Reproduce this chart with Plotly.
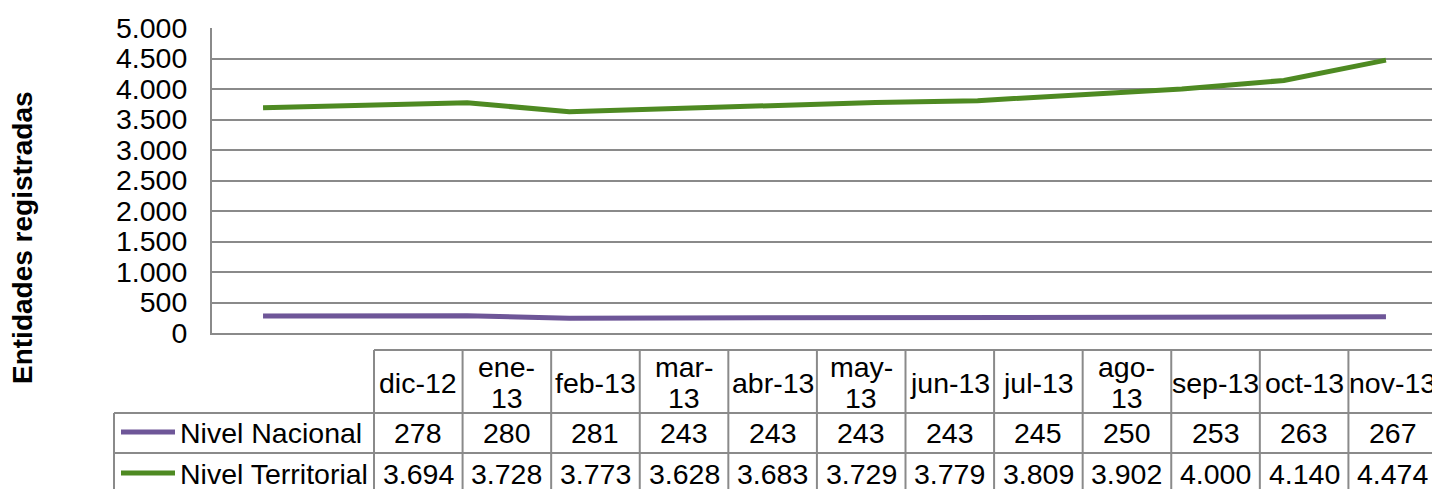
import plotly.graph_objects as go

# ---------------- data ----------------
months = ["dic-12", "ene-13", "feb-13", "mar-13", "abr-13", "may-13",
          "jun-13", "jul-13", "ago-13", "sep-13", "oct-13", "nov-13"]
nivel_nacional = [278, 280, 281, 243, 243, 243, 243, 245, 250, 253, 263, 267]
nivel_territorial = [3694, 3728, 3773, 3628, 3683, 3729, 3779, 3809, 3902, 4000, 4140, 4474]
series_names = ["Nivel Nacional", "Nivel Territorial"]
y_ticks = [0, 500, 1000, 1500, 2000, 2500, 3000, 3500, 4000, 4500, 5000]
y_title = "Entidades registradas"
wrapped_headers = {"ene-13", "mar-13", "may-13", "ago-13"}

# ---------------- style ----------------
OFF = 8                      # page body margin of the browser
W, H = 1440 - OFF, 489 - OFF
PL, PR, PT, PB = 212, 1437, 28, 333          # plot area in page pixels
FONT = "Liberation Sans, Arial, sans-serif"
FS = 28.5
GRID = "#8a8a8a"
colors = ["#6E5698", "#4E8A22"]


def px_x(x):
    return (x - PL) / (PR - PL)


def px_y(y):
    return (PB - y) / (PB - PT)


fig = go.Figure()
for name, vals, col in zip(series_names, [nivel_nacional, nivel_territorial], colors):
    fig.add_trace(go.Scatter(x=months, y=vals, mode="lines", name=name,
                             line=dict(color=col, width=5), showlegend=False))

shapes = []
annotations = []

# table geometry (page pixels)
T_LEFT, T_COL0, T_RIGHT = 114, 374, 1437
ROW_TOP, ROW1, ROW2, ROW_BOT = 350, 413, 453, 494
ncol = len(months)
cw = (T_RIGHT - T_COL0) / ncol


def hline(x0, x1, y):
    shapes.append(dict(type="line", xref="paper", yref="paper",
                       x0=px_x(x0), x1=px_x(x1), y0=px_y(y), y1=px_y(y),
                       line=dict(color=GRID, width=2)))


def vline(x, y0, y1):
    shapes.append(dict(type="line", xref="paper", yref="paper",
                       x0=px_x(x), x1=px_x(x), y0=px_y(y0), y1=px_y(y1),
                       line=dict(color=GRID, width=2)))


hline(T_COL0, T_RIGHT, ROW_TOP)
hline(T_LEFT, T_RIGHT, ROW1)
hline(T_LEFT, T_RIGHT, ROW2)
vline(T_LEFT, ROW1, ROW_BOT)
for i in range(ncol + 1):
    vline(T_COL0 + i * cw, ROW_TOP, ROW_BOT)


def text(x, y, s, anchor="center", bold=False, angle=0, size=FS):
    annotations.append(dict(xref="paper", yref="paper", x=px_x(x), y=px_y(y),
                            text=f"<b>{s}</b>" if bold else s, showarrow=False,
                            xanchor=anchor, yanchor="middle", textangle=angle,
                            font=dict(family=FONT, size=size, color="black")))


def fmt(v):
    return f"{v:,}".replace(",", ".")


for i, m in enumerate(months):
    cx = T_COL0 + (i + 0.5) * cw
    if m in wrapped_headers:
        a, b = m.split("-")
        text(cx, 367, a + "-")
        text(cx, 398, b)
    else:
        text(cx, 383, m)
    text(cx, 433, fmt(nivel_nacional[i]))
    text(cx, 474, fmt(nivel_territorial[i]))

# legend keys inside table
for name, col, yc in zip(series_names, colors, [432, 473]):
    shapes.append(dict(type="line", xref="paper", yref="paper",
                       x0=px_x(121), x1=px_x(175), y0=px_y(yc), y1=px_y(yc),
                       line=dict(color=col, width=5)))
    text(178, yc + 1, name, anchor="left")

# y axis title
text(22, 238, y_title, bold=True, angle=-90, size=28)

fig.update_layout(
    width=W, height=H,
    margin=dict(l=PL - OFF, r=W - (PR - OFF), t=PT - OFF, b=H - (PB - OFF), pad=0),
    paper_bgcolor="white", plot_bgcolor="white",
    separators=",.",
    font=dict(family=FONT, size=FS, color="black"),
    xaxis=dict(type="category", range=[-0.5, ncol - 0.5], showticklabels=False,
               showgrid=False, zeroline=False, showline=True, linecolor=GRID,
               linewidth=2, ticks=""),
    yaxis=dict(range=[0, 5000], tickvals=y_ticks, tickformat=",d",
               showgrid=True, gridcolor=GRID, gridwidth=2, zeroline=False,
               showline=True, linecolor=GRID, linewidth=2, ticks="",
               ticklabelstandoff=17,
               tickfont=dict(family=FONT, size=FS, color="black")),
    shapes=shapes, annotations=annotations,
)

fig.write_html("out.html")
